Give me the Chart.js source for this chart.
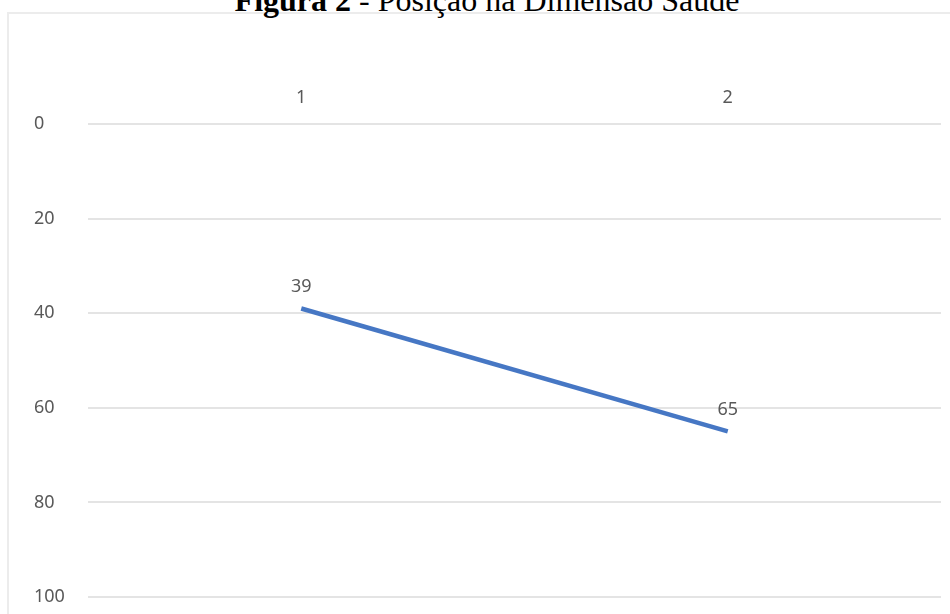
<!DOCTYPE html>
<html>
<head>
<meta charset="utf-8">
<script src="https://cdn.jsdelivr.net/npm/chart.js@4/dist/chart.umd.min.js"></script>
<style>
  html, body { margin: 0; padding: 0; background: #ffffff; }
  #wrap { position: relative; width: 950px; height: 614px; overflow: hidden; background: #fff; }
  #frame { position: absolute; left: 7px; top: 12px; width: 980px; height: 640px; border: 2px solid #ececec; box-sizing: border-box; }
  #title { position: absolute; left: 12px; top: -16px; width: 950px; text-align: center;
           font-family: "Liberation Serif", "Times New Roman", serif; font-size: 32px; line-height: 32px; color: #000; white-space: nowrap; }
  #title b { font-weight: bold; }
  #cv { position: absolute; left: 0; top: 0; }
</style>
</head>
<body>
<div id="wrap">
  <div id="frame"></div>
  <div id="title"><b>Figura 2</b> - Posição na Dimensão Saúde</div>
  <canvas id="cv" width="950" height="614"></canvas>
</div>
<script>
const categories = ["1", "2"];
const seriesValues = [39, 65];
const yTicks = [0, 20, 40, 60, 80, 100];

const tickFont = { family: "'Noto Sans', 'DejaVu Sans', sans-serif", size: 18 };
const tickColor = '#595959';

const labelPlugin = {
  id: 'pointLabels',
  afterDatasetsDraw(chart) {
    const ctx = chart.ctx;
    const meta = chart.getDatasetMeta(0);
    ctx.save();
    ctx.font = tickFont.size + 'px ' + tickFont.family;
    ctx.fillStyle = tickColor;
    ctx.textAlign = 'center';
    ctx.textBaseline = 'middle';
    meta.data.forEach((pt, i) => {
      ctx.fillText(String(chart.data.datasets[0].data[i]), pt.x, pt.y - 22);
    });
    ctx.restore();
  }
};

new Chart(document.getElementById('cv'), {
  type: 'line',
  data: {
    labels: categories,
    datasets: [{
      data: seriesValues,
      borderColor: '#4677c4',
      borderWidth: 4.5,
      borderCapStyle: 'butt',
      pointRadius: 0,
      pointHoverRadius: 0,
      tension: 0,
      fill: false
    }]
  },
  options: {
    responsive: false,
    animation: false,
    events: [],
    layout: { padding: { left: 34, right: 9, top: 0, bottom: 17 } },
    plugins: { legend: { display: false }, tooltip: { enabled: false }, title: { display: false } },
    scales: {
      x: {
        position: 'top',
        offset: true,
        grid: { display: false },
        border: { display: false },
        ticks: { font: tickFont, color: tickColor, padding: 7, maxRotation: 0 },
        afterFit(scale) { scale.height = 124; }
      },
      y: {
        reverse: true,
        min: 0,
        max: 100,
        afterBuildTicks(scale) { scale.ticks = yTicks.map(v => ({ value: v })); },
        grid: { color: '#e4e4e4', lineWidth: 2, drawTicks: false },
        border: { display: false },
        ticks: { font: tickFont, color: tickColor, crossAlign: 'far', padding: 0 },
        afterFit(scale) { scale.width = 54; }
      }
    }
  },
  plugins: [labelPlugin]
});
</script>
</body>
</html>
